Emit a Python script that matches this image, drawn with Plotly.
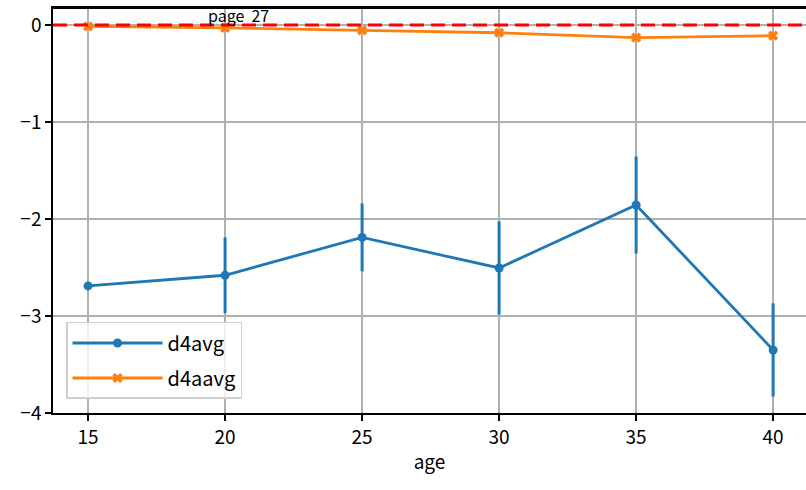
import plotly.graph_objects as go

ages = [15, 20, 25, 30, 35, 40]
d4avg = [-2.69, -2.58, -2.19, -2.505, -1.856, -3.35]
d4avg_err = [0.0, 0.39, 0.35, 0.48, 0.50, 0.48]
d4aavg = [-0.015, -0.03, -0.055, -0.08, -0.13, -0.11]
d4aavg_err = [0.0, 0.0, 0.0, 0.0, 0.0, 0.0]

blue = "#1f77b4"
orange = "#ff7f0e"
font = "Noto Sans CJK JP, DejaVu Sans, sans-serif"

fig = go.Figure()
fig.add_trace(go.Scatter(
    x=ages, y=d4avg, name="d4avg", mode="lines+markers", legendgroup="a",
    line=dict(color=blue, width=2.8),
    marker=dict(symbol="circle", size=9, color=blue),
    error_y=dict(type="data", array=d4avg_err, visible=True, color=blue, thickness=3, width=0),
))
fig.add_trace(go.Scatter(
    x=ages, y=d4aavg, name="d4aavg", mode="lines+markers", legendgroup="b",
    line=dict(color=orange, width=2.8),
    marker=dict(symbol="x", size=9, color=orange),
    error_y=dict(type="data", array=d4aavg_err, visible=True, color=orange, thickness=3, width=0),
))
fig.add_hline(y=0, line=dict(color="red", width=3, dash="14px,7px"))
fig.add_shape(type="line", xref="paper", yref="paper", x0=0, x1=1, y0=1, y1=1,
              line=dict(color="black", width=2), layer="above")
fig.add_annotation(x=20.5, y=0, xref="x", yref="y", text="page  27", showarrow=False,
                   yanchor="bottom", yshift=-4, font=dict(family=font, size=16, color="black"))

fig.update_layout(
    width=806, height=490,
    margin=dict(l=53, r=0, t=8, b=77, autoexpand=False),
    paper_bgcolor="white", plot_bgcolor="white",
    font=dict(family=font, size=19, color="black"),
    showlegend=True,
    legend=dict(x=0.0173, y=0.2247, xanchor="left", yanchor="top",
                bgcolor="rgba(255,255,255,0.8)", bordercolor="#d0d0d0", borderwidth=1.5,
                itemwidth=90, tracegroupgap=6,
                font=dict(family=font, size=20)),
    xaxis=dict(range=[13.72, 41.2], tickvals=ages, showgrid=True, gridcolor="#b0b0b0", gridwidth=1.6,
               showline=True, linecolor="black", linewidth=2, mirror=True,
               ticks="outside", ticklen=6, tickwidth=1.5, tickcolor="black", zeroline=False,
               automargin=False,
               title=dict(text="age", font=dict(family=font, size=19), standoff=8)),
    yaxis=dict(range=[-4.0, 0.175], tickvals=[0, -1, -2, -3, -4], ticktext=["0", "−1", "−2", "−3", "−4"],
               showgrid=True, gridcolor="#b0b0b0", gridwidth=1.6, automargin=False,
               showline=True, linecolor="black", linewidth=1.5,
               ticks="outside", ticklen=6, tickwidth=1.5, tickcolor="black", zeroline=False),
)
fig.write_html("out.html", config={"displayModeBar": False},
               post_script="document.body.style.margin='0';document.body.style.overflow='hidden';")
